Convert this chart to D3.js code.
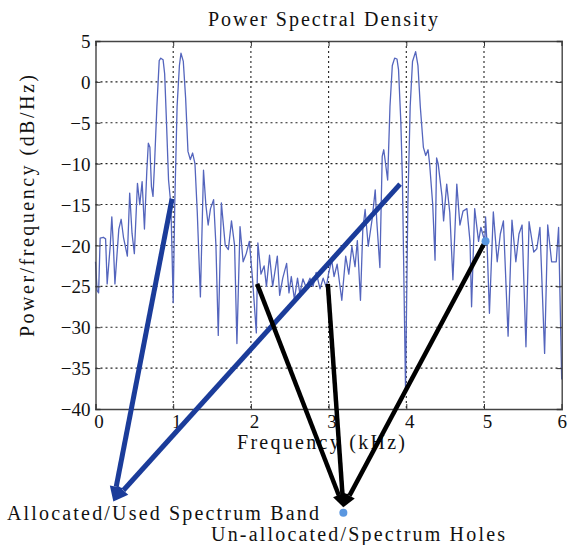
<!DOCTYPE html>
<html>
<head>
<meta charset="utf-8">
<script src="https://cdn.jsdelivr.net/npm/d3@7"></script>
<style>
  body { margin: 0; background: #fff; }
  text { font-family: "Liberation Serif", "DejaVu Serif", serif; fill: #111; }
</style>
</head>
<body>
<svg id="chart" width="568" height="545"></svg>
<script>
// frequency (kHz) and PSD (dB/Hz)
var freqKHz = [
  0.00, 0.02, 0.04, 0.06, 0.10, 0.13, 0.15, 0.19, 0.21, 0.23, 0.25, 0.30, 0.33, 0.36, 0.41, 0.44,
  0.47, 0.50, 0.54, 0.57, 0.60, 0.63, 0.66, 0.68, 0.70, 0.72, 0.74, 0.76, 0.79, 0.82, 0.84, 0.87,
  0.89, 0.91, 0.94, 0.97, 1.00, 1.02, 1.05, 1.08, 1.10, 1.13, 1.16, 1.19, 1.22, 1.25, 1.28, 1.31,
  1.35, 1.39, 1.42, 1.45, 1.48, 1.52, 1.55, 1.58, 1.62, 1.67, 1.71, 1.75, 1.79, 1.82, 1.86, 1.90,
  1.94, 1.98, 2.02, 2.07, 2.09, 2.13, 2.17, 2.20, 2.24, 2.28, 2.34, 2.37, 2.41, 2.46, 2.49, 2.52,
  2.56, 2.60, 2.63, 2.67, 2.71, 2.76, 2.80, 2.84, 2.89, 2.93, 2.97, 3.00, 3.04, 3.07, 3.11, 3.17,
  3.22, 3.26, 3.30, 3.34, 3.37, 3.41, 3.44, 3.47, 3.51, 3.56, 3.60, 3.62, 3.66, 3.69, 3.71, 3.76,
  3.79, 3.82, 3.85, 3.88, 3.90, 3.93, 3.95, 3.99, 4.02, 4.05, 4.08, 4.12, 4.15, 4.18, 4.22, 4.25,
  4.28, 4.30, 4.34, 4.37, 4.39, 4.41, 4.46, 4.48, 4.52, 4.56, 4.60, 4.65, 4.69, 4.73, 4.78, 4.82,
  4.84, 4.88, 4.93, 4.96, 5.01, 5.02, 5.04, 5.07, 5.12, 5.17, 5.21, 5.25, 5.31, 5.36, 5.41, 5.45,
  5.49, 5.54, 5.58, 5.64, 5.68, 5.72, 5.78, 5.82, 5.87, 5.93, 5.96, 6.00
];
var psdDb = [
  -22, -25.5, -25.8, -19.1, -19, -19.2, -24.7, -20, -16.5, -20, -24.7, -18, -16.8, -19, -21.3, -13.6,
  -18.5, -21, -12.4, -15, -12.2, -18, -11, -7.5, -8, -12.8, -14, -10, -3, 2.6, 2.9, 2.7,
  1, -4, -12, -15, -27, -15, -3, 2, 3.5, 2.5, -2, -8.5, -9.5, -8.7, -10, -16,
  -26.3, -10.8, -15, -17.5, -15.5, -14.4, -20, -31, -14.8, -20, -20.5, -17, -20, -32, -17.7, -22,
  -21, -19.5, -24, -30.7, -19.7, -23.5, -22.5, -25, -21.2, -25, -21.3, -26.1, -24, -22.2, -25.8, -23.8,
  -26.6, -24, -25.9, -24.1, -25.1, -24, -25, -23.3, -25.3, -24, -25.1, -23.4, -21.8, -23.8, -22.3, -26.7,
  -21.3, -23.5, -20.1, -22.6, -19.4, -26.7, -18.1, -15.6, -20.1, -16.8, -13.2, -17, -22.7, -9.1, -8.3, -12,
  -3, 2, 2.9, 2.8, 1.5, -5, -12, -37.5, -15, -3, 2.5, 3.7, 2, -3, -8, -9,
  -8.3, -10, -15, -21.8, -9.3, -10, -14, -17, -12.5, -16, -24.2, -12.5, -17.5, -15.8, -15.5, -19.5,
  -27.5, -15.5, -19.5, -17.8, -19.5, -16.5, -20, -28.3, -15.9, -22, -18.6, -17, -31.1, -16.9, -22, -18.6,
  -17.5, -32.4, -17.1, -20.8, -20.4, -17.8, -33.2, -17.5, -22, -22, -17.8, -36.4
];

var xTicks = [0, 1, 2, 3, 4, 5, 6];
var yTicks = [5, 0, -5, -10, -15, -20, -25, -30, -35, -40];

// annotation arrows, in data units [fromF, fromDb, toF, toDb]
var usedArrows = [[0.985, -14.3, 0.23, -51.3], [3.92, -12.5, 0.23, -51.3]];
var holeArrows = [[2.08, -24.7, 3.19, -52.0], [2.99, -24.7, 3.19, -52.0], [5.0, -19.8, 3.19, -52.0]];
var markerDots = [[5.02, -19.5], [3.19, -52.7]];

var svg = d3.select("#chart");
var plotL = 95.5, plotR = 561.7, plotT = 41, plotB = 409;

var x = d3.scaleLinear().domain([0, 6]).range([plotL, plotR]);
var y = d3.scaleLinear().domain([-40, 5]).range([plotB, plotT]);

svg.append("rect").attr("width", 568).attr("height", 545).attr("fill", "#fff");

// dotted grid
svg.append("g").selectAll("line").data(xTicks.slice(1, -1)).join("line")
  .attr("x1", d => x(d)).attr("x2", d => x(d))
  .attr("y1", plotT).attr("y2", plotB)
  .attr("stroke", "#222").attr("stroke-width", 1.1).attr("stroke-dasharray", "2,3");
svg.append("g").selectAll("line").data(yTicks.slice(1, -1)).join("line")
  .attr("x1", plotL).attr("x2", plotR)
  .attr("y1", d => y(d)).attr("y2", d => y(d))
  .attr("stroke", "#222").attr("stroke-width", 1.1).attr("stroke-dasharray", "2,3");

// the PSD trace
var line = d3.line().x((d, i) => x(freqKHz[i])).y(d => y(d));
svg.append("path").datum(psdDb)
  .attr("d", line)
  .attr("fill", "none")
  .attr("stroke", "#5465bd")
  .attr("stroke-width", 1.3)
  .attr("stroke-linejoin", "round");

// axes, matlab style box with inner ticks
var fmt = d3.format("d");
var xAxis = svg.append("g").attr("transform", "translate(0," + plotB + ")")
  .call(d3.axisBottom(x).tickValues(xTicks).tickSize(-5).tickPadding(6).tickFormat(fmt));
xAxis.selectAll("text").attr("font-size", 19).attr("dx", d => d == 6 ? 0 : 3);
svg.append("g").attr("transform", "translate(0," + plotT + ")")
  .call(d3.axisTop(x).tickValues(xTicks).tickSize(-5).tickFormat(""));
var yAxis = svg.append("g").attr("transform", "translate(" + plotL + ",0)")
  .call(d3.axisLeft(y).tickValues(yTicks).tickSize(-5).tickPadding(5).tickFormat(fmt));
yAxis.selectAll("text").attr("font-size", 19).attr("dy", "0.35em");
svg.append("g").attr("transform", "translate(" + plotR + ",0)")
  .call(d3.axisRight(y).tickValues(yTicks).tickSize(-5).tickFormat(""));
svg.selectAll(".domain").attr("stroke", "#444").attr("stroke-width", 1.4);
svg.selectAll(".tick line").attr("stroke", "#333");
svg.selectAll(".tick text").attr("fill", "#111").style("font-family", "Liberation Serif, serif");

// titles
svg.append("text").attr("x", 323).attr("y", 26).attr("text-anchor", "middle")
  .attr("font-size", 20).attr("textLength", 230).attr("lengthAdjust", "spacing")
  .text("Power Spectral Density");
svg.append("text").attr("x", 321).attr("y", 449).attr("text-anchor", "middle")
  .attr("font-size", 20).attr("textLength", 168).attr("lengthAdjust", "spacing")
  .text("Frequency\u00a0(kHz)");
svg.append("text").attr("transform", "translate(34,206) rotate(-90)").attr("text-anchor", "middle")
  .attr("font-size", 20).attr("textLength", 262).attr("lengthAdjust", "spacing")
  .text("Power/frequency\u00a0(dB/Hz)");

// arrows
function arrow(a, color, w, headLen, headW) {
  var x1 = x(a[0]), y1 = y(a[1]), x2 = x(a[2]), y2 = y(a[3]);
  var ang = Math.atan2(y2 - y1, x2 - x1);
  var bx = x2 - headLen * Math.cos(ang), by = y2 - headLen * Math.sin(ang);
  svg.append("line").attr("x1", x1).attr("y1", y1).attr("x2", bx).attr("y2", by)
    .attr("stroke", color).attr("stroke-width", w);
  var px = -Math.sin(ang) * headW / 2, py = Math.cos(ang) * headW / 2;
  svg.append("path")
    .attr("d", "M" + x2 + "," + y2 + "L" + (bx + px) + "," + (by + py) + "L" + (bx - px) + "," + (by - py) + "Z")
    .attr("fill", color);
}
usedArrows.forEach(a => arrow(a, "#1b3c9a", 5, 15, 13));
holeArrows.forEach(a => arrow(a, "#000", 4.5, 13, 12));

svg.append("g").selectAll("circle").data(markerDots).join("circle")
  .attr("cx", d => x(d[0])).attr("cy", d => y(d[1])).attr("r", 4)
  .attr("fill", "#5a97e0");

svg.append("text").attr("x", 7).attr("y", 520).attr("font-size", 20)
  .attr("textLength", 312).attr("lengthAdjust", "spacing")
  .text("Allocated/Used Spectrum Band");
svg.append("text").attr("x", 211).attr("y", 541).attr("font-size", 20)
  .attr("textLength", 294).attr("lengthAdjust", "spacing")
  .text("Un-allocated/Spectrum Holes");
</script>
</body>
</html>
